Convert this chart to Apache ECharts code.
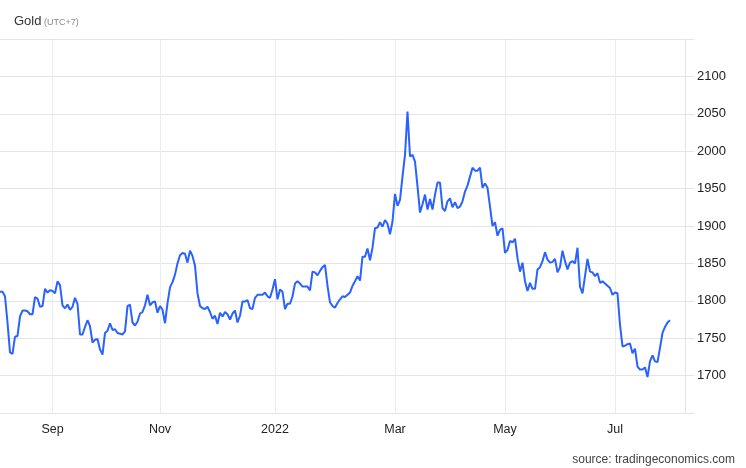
<!DOCTYPE html>
<html>
<head>
<meta charset="utf-8">
<script src="https://cdn.jsdelivr.net/npm/echarts@6/dist/echarts.min.js"></script>
<style>
  html, body { margin: 0; padding: 0; background: #ffffff; }
  #chart { width: 746px; height: 468px; }
</style>
</head>
<body>
<div id="chart"></div>
<script>
// Gold daily price (USD/oz), mid-Aug 2021 to late Jul 2022, one value per sampled trading day
const prices = [
  1812, 1812, 1806, 1771, 1731, 1729, 1752, 1753, 1779, 1787,
  1787, 1786, 1782, 1782, 1805, 1803, 1792, 1793, 1816, 1811,
  1814, 1813, 1810, 1826, 1821, 1794, 1790, 1795, 1788, 1792,
  1804, 1796, 1755, 1755, 1765, 1774, 1766, 1744, 1748, 1749,
  1735, 1728, 1757, 1760, 1770, 1761, 1762, 1757, 1756, 1755,
  1759, 1793, 1795, 1771, 1767, 1772, 1783, 1785, 1794, 1808,
  1794, 1798, 1799, 1784, 1793, 1788, 1770, 1797, 1818, 1825,
  1835, 1850, 1861, 1864, 1863, 1851, 1867, 1860, 1847, 1810,
  1793, 1790, 1789, 1792, 1785, 1776, 1780, 1769, 1784, 1779,
  1785, 1782, 1775, 1783, 1787, 1771, 1780, 1799, 1799, 1801,
  1790, 1789, 1804, 1808, 1808, 1808, 1811, 1806, 1804, 1815,
  1829, 1802, 1815, 1812, 1789, 1796, 1796, 1806, 1823, 1826,
  1823, 1819, 1819, 1819, 1814, 1839, 1838, 1834, 1840, 1845,
  1848, 1820, 1798, 1793, 1791, 1797, 1802, 1806, 1805, 1808,
  1811, 1820, 1826, 1833, 1827, 1859, 1859, 1870, 1854, 1871,
  1897, 1898, 1905, 1899, 1908, 1903, 1889, 1906, 1943, 1927,
  1935, 1966, 1995, 2053, 1993, 1995, 1986, 1953, 1918, 1929,
  1942, 1922, 1936, 1922, 1942, 1958, 1958, 1924, 1920, 1933,
  1937, 1925, 1932, 1924, 1926, 1933, 1946, 1954, 1966, 1978,
  1974, 1974, 1978, 1951, 1957, 1951, 1926, 1900, 1905, 1887,
  1895, 1897, 1864, 1868, 1880, 1878, 1883, 1857, 1839, 1851,
  1826, 1813, 1824, 1816, 1816, 1842, 1845, 1853, 1865, 1855,
  1851, 1852, 1856, 1838, 1845, 1867, 1853, 1842, 1851, 1853,
  1850, 1871, 1819, 1810, 1833, 1856, 1839, 1838, 1833, 1837,
  1824, 1826, 1823, 1820, 1817, 1808, 1811, 1810, 1768, 1739,
  1740, 1742, 1743, 1730, 1736, 1712, 1708, 1708, 1711, 1698,
  1719, 1727, 1719, 1718, 1737, 1757, 1765, 1771, 1774
];
// Axis slots (the axis runs a few slots past the last price)
const slotCount = 275;
const slots = Array.from({ length: slotCount }, (_, i) => String(i));
// Month tick labels and the slot where each month starts
const tickLabels = ['Sep', 'Nov', '2022', 'Mar', 'May', 'Jul'];
const tickSlots = [21, 64, 110, 158, 202, 246];
// Y axis range / ticks
const yMin = 1650, yMax = 2150, yStep = 50;

const tickMap = {};
tickSlots.forEach((s, k) => { tickMap[s] = tickLabels[k]; });
const isTick = (idx) => Object.prototype.hasOwnProperty.call(tickMap, idx);

const chart = echarts.init(document.getElementById('chart'), null, { renderer: 'canvas' });
const FONT = '"Liberation Sans", Arial, Helvetica, sans-serif';

chart.setOption({
  animation: false,
  backgroundColor: '#ffffff',
  textStyle: { fontFamily: FONT },
  graphic: [
    {
      type: 'text',
      x: 14,
      y: 21.5,
      style: {
        text: 'Gold',
        font: 'normal 13px ' + FONT,
        fill: '#333333',
        verticalAlign: 'middle'
      }
    },
    {
      type: 'text',
      x: 44,
      y: 22.5,
      style: {
        text: '(UTC+7)',
        font: 'normal 9px ' + FONT,
        fill: '#8a8a8a',
        verticalAlign: 'middle'
      }
    },
    {
      type: 'text',
      right: 11,
      top: 454,
      style: {
        text: 'source: tradingeconomics.com',
        font: '12px ' + FONT,
        fill: '#444444'
      }
    }
  ],
  grid: { left: 0, right: 61, top: 39, bottom: 55, containLabel: false },
  xAxis: {
    type: 'category',
    boundaryGap: false,
    data: slots,
    axisLine: { show: false },
    axisTick: { show: false },
    axisLabel: {
      interval: (idx) => isTick(idx),
      formatter: (v, idx) => tickMap[idx] || '',
      margin: 10,
      fontSize: 12.5,
      color: '#222222',
      fontFamily: FONT
    },
    splitLine: {
      show: true,
      interval: (idx) => isTick(idx),
      lineStyle: { color: '#e8edf3', width: 1 }
    }
  },
  yAxis: {
    type: 'value',
    position: 'right',
    min: yMin,
    max: yMax,
    interval: yStep,
    axisLine: { show: true, lineStyle: { color: '#e4e4e4', width: 1 } },
    axisTick: { show: true, length: 9, lineStyle: { color: '#e4e4e4' } },
    axisLabel: {
      margin: 12,
      fontSize: 13,
      color: '#222222',
      fontFamily: FONT,
      formatter: (v) => (v === yMin || v === yMax) ? '' : String(v)
    },
    splitLine: { show: true, lineStyle: { color: '#e4e4e4', width: 1 } }
  },
  series: [{
    type: 'line',
    data: prices,
    symbol: 'none',
    smooth: false,
    lineStyle: { color: '#2962ff', width: 2 },
    itemStyle: { color: '#2962ff' }
  }]
});
</script>
</body>
</html>
